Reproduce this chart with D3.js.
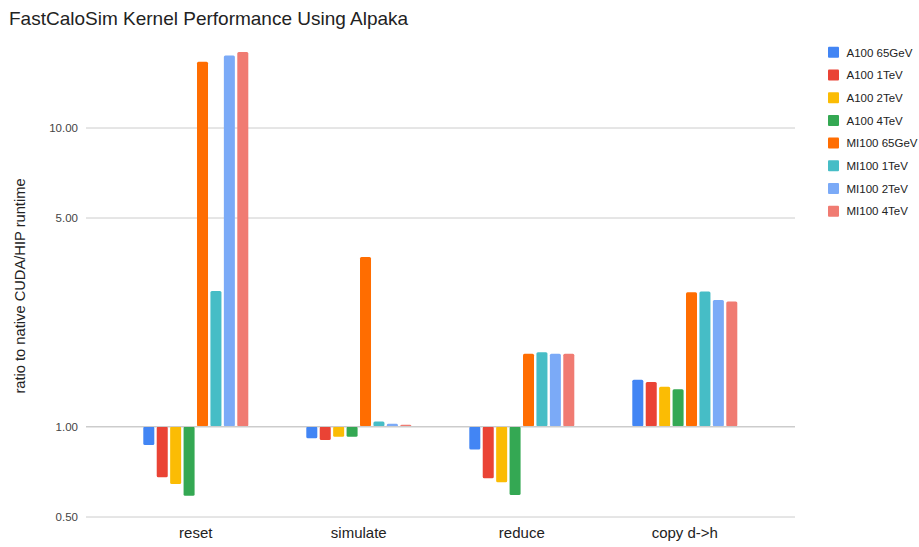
<!DOCTYPE html>
<html><head><meta charset="utf-8">
<script src="https://cdn.jsdelivr.net/npm/d3@7"></script>
<style>body{margin:0;background:#fff}svg{display:block}text{font-family:"Liberation Sans",Arial,sans-serif}</style>
</head><body>
<svg id="c" width="919" height="547"></svg>
<script>
const categories = ["reset", "simulate", "reduce", "copy d->h"];
const seriesNames = ["A100 65GeV","A100 1TeV","A100 2TeV","A100 4TeV","MI100 65GeV","MI100 1TeV","MI100 2TeV","MI100 4TeV"];
const colors = ["#4285F4","#EA4335","#FBBC04","#34A853","#FF6D01","#46BDC6","#7BAAF7","#F07B72"];
const a100_65GeV = [0.868, 0.914, 0.837, 1.434];
const a100_1TeV  = [0.676, 0.902, 0.671, 1.409];
const a100_2TeV  = [0.642, 0.924, 0.651, 1.359];
const a100_4TeV  = [0.587, 0.924, 0.590, 1.331];
const mi100_65GeV = [16.6, 3.69, 1.75, 2.81];
const mi100_1TeV  = [2.84, 1.039, 1.77, 2.83];
const mi100_2TeV  = [17.4, 1.021, 1.75, 2.65];
const mi100_4TeV  = [17.9, 1.013, 1.75, 2.62];
const seriesValues = [a100_65GeV,a100_1TeV,a100_2TeV,a100_4TeV,mi100_65GeV,mi100_1TeV,mi100_2TeV,mi100_4TeV];
const yTicks = [0.5, 1, 5, 10];

const svg = d3.select("#c");
const y = d3.scaleLog().domain([0.5, 20]).range([516.5, 37.5]);
const x0 = d3.scaleBand().domain(categories).range([114.3, 766.3]).padding(0);
const groupW = 105;
const x1 = d3.scaleBand().domain(seriesNames).range([0, groupW]).paddingInner(0.18).paddingOuter(0);

// title
svg.append("text").attr("x", 9).attr("y", 25).attr("font-size", 19).attr("fill", "#222")
  .text("FastCaloSim Kernel Performance Using Alpaka");

// gridlines
const yAxis = d3.axisLeft(y).tickValues(yTicks).tickFormat(d3.format(".2f")).tickSize(-709).tickPadding(8);
const ga = svg.append("g").attr("transform", "translate(86,0)").call(yAxis);
ga.select(".domain").remove();
ga.selectAll(".tick line").attr("stroke", "#cccccc");
ga.selectAll(".tick text").attr("font-size", 11.5).attr("fill", "#444").attr("font-family", "Liberation Sans, Arial, sans-serif");

// y label
svg.append("text").attr("transform", "translate(25,286) rotate(-90)").attr("text-anchor", "middle")
  .attr("font-size", 14.7).attr("fill", "#222").text("ratio to native CUDA/HIP runtime");

// bars
const base = y(1);
const groups = svg.append("g").selectAll("g").data(categories).join("g")
  .attr("transform", c => `translate(${x0(c) + (x0.bandwidth() - groupW) / 2},0)`);
groups.each(function(c, ci) {
  d3.select(this).selectAll("rect").data(seriesNames).join("rect")
    .attr("x", s => x1(s))
    .attr("width", x1.bandwidth())
    .attr("y", (s, si) => Math.min(y(seriesValues[si][ci]), base))
    .attr("height", (s, si) => Math.abs(y(seriesValues[si][ci]) - base))
    .attr("rx", 1.5)
    .attr("fill", (s, si) => colors[si]);
});

// baseline at 1.00 redrawn
svg.append("line").attr("x1", 86).attr("x2", 795).attr("y1", base).attr("y2", base).attr("stroke", "#cccccc");

// category labels
svg.append("g").selectAll("text").data(categories).join("text")
  .attr("x", c => x0(c) + x0.bandwidth() / 2).attr("y", 538).attr("text-anchor", "middle")
  .attr("font-size", 15).attr("fill", "#222").text(c => c);

// legend
const lg = svg.append("g").selectAll("g").data(seriesNames).join("g")
  .attr("transform", (s, i) => `translate(828,${52.3 + i * 22.7})`);
lg.append("rect").attr("x", 0).attr("y", -5.5).attr("width", 11).attr("height", 11).attr("rx", 1).attr("fill", (s, i) => colors[i]);
lg.append("text").attr("x", 18.5).attr("y", 4.2).attr("font-size", 11.5).attr("fill", "#222").text(s => s);
</script>
</body></html>
